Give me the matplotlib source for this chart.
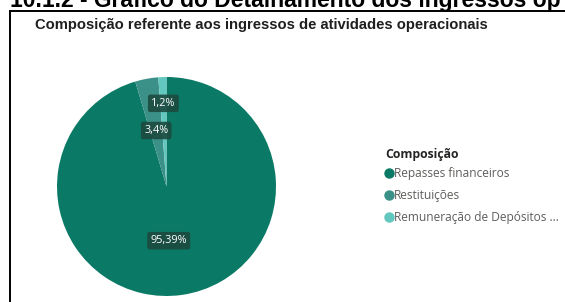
import matplotlib
matplotlib.use("Agg")
import matplotlib.pyplot as plt
from matplotlib.lines import Line2D
import numpy as np

# data
categories = ["Repasses financeiros", "Restituições", "Remuneração de Depósitos ..."]
values = [95.39, 3.4, 1.2]
colors = ["#0a7a66", "#3b9188", "#62c7be"]
label_dist = [0.5, 0.52, 0.76]

W, H = 565, 302
fig = plt.figure(figsize=(W / 100, H / 100), dpi=100)
fig.patch.set_facecolor("white")


def fx(px):
    return px / W


def fy(py):
    return 1 - py / H


# cropped document heading above the visual
fig.text(fx(10), fy(7.5), "10.1.2 - Gráfico do Detalhamento dos ingressos op",
         fontsize=16.5, fontweight="bold", family="Liberation Sans",
         va="baseline", ha="left", color="black")

# visual border (top and left only are visible)
fig.add_artist(Line2D([fx(9.5), 1], [fy(10.5), fy(10.5)], color="black", lw=1.4))
fig.add_artist(Line2D([fx(9.5), fx(9.5)], [fy(10.5), 0], color="black", lw=1.4))

fig.text(fx(35), fy(25), "Composição referente aos ingressos de atividades operacionais",
         fontsize=10.6, fontweight="bold", family="Liberation Sans",
         va="center", ha="left", color="#1f1f1f")

# pie
cx, cy, r = 166.5, 186.5, 109.5
ax = fig.add_axes([fx(cx - r), fy(cy + r), 2 * r / W, 2 * r / H])
wedges, _ = ax.pie(values, colors=colors, startangle=90, counterclock=False,
                   radius=1, wedgeprops=dict(linewidth=0))
ax.set_xlim(-1, 1)
ax.set_ylim(-1, 1)
ax.set_aspect("auto")
ax.axis("off")

for i, (w, v, d) in enumerate(zip(wedges, values, label_dist)):
    ang = np.deg2rad((w.theta1 + w.theta2) / 2)
    x, y = d * np.cos(ang), d * np.sin(ang)
    if i == 0:
        x = 0.02
    txt = (f"{v}".rstrip("0")).replace(".", ",") + "%"
    ax.text(x, y, txt, ha="center", va="center",
            fontsize=7.8, color="white", family="Open Sans",
            bbox=dict(boxstyle="round,pad=0.3,rounding_size=0.2",
                      fc="#1d4a40", ec="none", alpha=0.9))

# legend
fig.text(fx(385), fy(154), "Composição", ha="left", va="center",
         family="Open Sans", fontsize=8.8, fontweight="bold", color="#252423")
handles = [Line2D([], [], marker="o", linestyle="none", markersize=6.5,
                  markerfacecolor=c, markeredgecolor=c) for c in colors]
leg = fig.legend(handles, categories, loc="upper left",
                 bbox_to_anchor=(fx(379), fy(161)), frameon=False,
                 borderpad=0, handlelength=0.6, handletextpad=0.12,
                 labelspacing=0.75, prop=dict(family="Open Sans", size=8.6))
for t in leg.get_texts():
    t.set_color("#605e5c")

fig.savefig("out.png", dpi=100, facecolor="white")
